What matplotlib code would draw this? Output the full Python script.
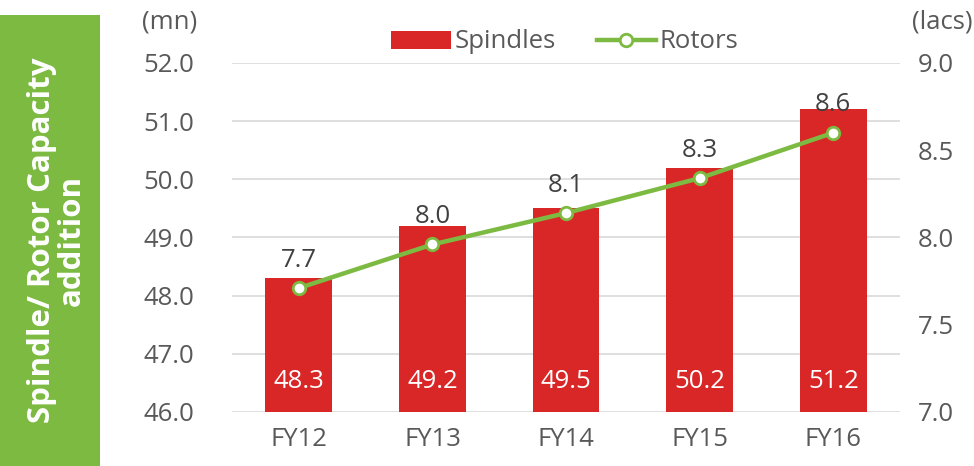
import matplotlib.pyplot as plt
from matplotlib.patches import Rectangle

plt.rcParams['font.family'] = ['Open Sans', 'DejaVu Sans']

years = ['FY12', 'FY13', 'FY14', 'FY15', 'FY16']
spindles = [48.3, 49.2, 49.5, 50.2, 51.2]
rotors = [7.71, 7.96, 8.14, 8.34, 8.60]
left_ticks = [46.0, 47.0, 48.0, 49.0, 50.0, 51.0, 52.0]
right_ticks = [7.0, 7.5, 8.0, 8.5, 9.0]

red = '#D92727'
green = '#7CBA42'
grey = '#595959'
fs = 18.5

fig = plt.figure(figsize=(9.74, 4.66), dpi=100)
ax = fig.add_axes([0.2382, 0.1159, 0.686, 0.749])
ax2 = ax.twinx()

x = range(len(years))
bars = ax.bar(x, spindles, width=0.5, color=red, zorder=2, label='Spindles')
ax.set_ylim(46, 52)
ax.set_xlim(-0.5, 4.5)
ax.set_yticks(left_ticks)
ax.set_yticklabels([f'{v:.1f}' for v in left_ticks])
ax.set_xticks(list(x))
ax.set_xticklabels(years)
ax.grid(axis='y', color='#D9D9D9', linewidth=1.2, zorder=0)
ax.set_axisbelow(True)
ax.tick_params(axis='both', length=0, labelsize=fs, colors=grey)
ax.tick_params(axis='y', pad=27)
ax.tick_params(axis='x', pad=11)
for s in ax.spines.values():
    s.set_visible(False)

for i, v in enumerate(spindles):
    ax.annotate(f'{v:.1f}', (i, 46), xytext=(0, 22), textcoords='offset points',
                ha='center', va='center', color='white', fontsize=fs, zorder=3)

line, = ax2.plot(list(x), rotors, color=green, linewidth=3.2, marker='o',
                 markersize=9, markerfacecolor='white', markeredgecolor=green,
                 markeredgewidth=2, zorder=4, label='Rotors')
ax2.set_ylim(7.0, 9.0)
ax2.set_yticks(right_ticks)
ax2.set_yticklabels([f'{v:.1f}' for v in right_ticks])
ax2.tick_params(axis='y', length=0, labelsize=fs, colors=grey, pad=13)
for s in ax2.spines.values():
    s.set_visible(False)

for i, v in enumerate(rotors):
    ax2.annotate(f'{v:.1f}', (i, v), xytext=(0, 20), textcoords='offset points',
                 ha='center', va='center', color='#404040', fontsize=fs)

fig.text(170 / 974, 1 - 22 / 466, '(mn)', ha='center', va='center', fontsize=fs, color=grey)
fig.text(942 / 974, 1 - 22 / 466, '(lacs)', ha='center', va='center', fontsize=fs, color=grey)

fig.patches.append(Rectangle((0, 0), 100 / 974, 1 - 15 / 466, transform=fig.transFigure,
                             facecolor=green, edgecolor='none', zorder=0))
fig.text(57 / 974, 1 - 240 / 466, 'Spindle/ Rotor Capacity\naddition', rotation=90, ha='center',
         va='center', color='white', fontsize=22.5, fontweight='bold', linespacing=1.0)

fig.legend(handles=[bars, line], loc='center', bbox_to_anchor=(565 / 974, 1 - 42 / 466),
           ncol=2, frameon=False, fontsize=fs, handlelength=2.3, columnspacing=1.6,
           handletextpad=0.15, labelcolor=grey)

fig.savefig('out.png', dpi=100)
